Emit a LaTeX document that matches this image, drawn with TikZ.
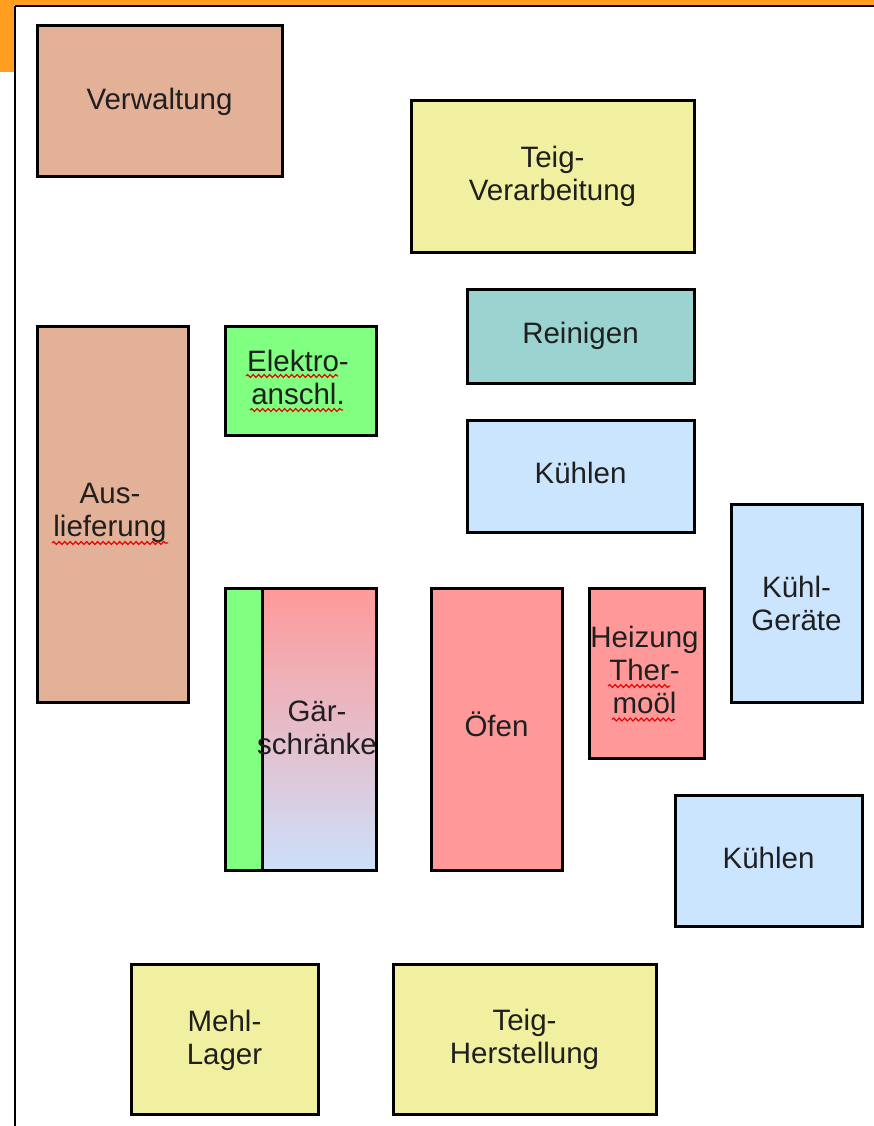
\documentclass[tikz,border=0pt]{standalone}
\usepackage{fontspec}
\setmainfont{Liberation Sans}
\usetikzlibrary{decorations.pathmorphing}
\definecolor{brownbox}{HTML}{E3B098}
\definecolor{yellowbox}{HTML}{F0F0A0}
\definecolor{tealbox}{HTML}{9AD3CF}
\definecolor{greenbox}{HTML}{80FF80}
\definecolor{bluebox}{HTML}{CCE5FF}
\definecolor{redbox}{HTML}{FF9999}
\definecolor{gradbot}{HTML}{CCE0FA}
\definecolor{framecol}{HTML}{FF9E1F}
\begin{document}
\begin{tikzpicture}[x=1pt,y=-1pt]
\tikzset{
  roomfont/.style={text=black!88, font=\fontsize{29.5}{33}\selectfont, align=center, inner sep=0pt},
  room/.style={draw=black, line width=3pt, rectangle, roomfont},
  oneline/.style={text height=21.5pt, text depth=6.2pt},
  wavy/.style={draw=red!90!black, line width=1.2pt, decorate,
    decoration={snake, amplitude=1.4pt, segment length=5.5pt}},
  band/.style={fill=framecol, draw=none}
}
\useasboundingbox (0,0) rectangle (874,1126);
\fill[white] (0,0) rectangle (874,1126);
% orange band and frame
\path[band] (0,0) rectangle (874,5);
\path[band] (0,0) rectangle (14,72);
\draw[line width=2pt, black] (15,6) -- (874,6);
\draw[line width=2pt, black] (15,6) -- (15,1126);

\node[room, oneline, fill=brownbox, minimum width=245pt, minimum height=151pt] (verw) at (159.5,101.5) {Verwaltung};
\node[room, fill=yellowbox, minimum width=283pt, minimum height=151pt] (teigv) at (552.5,176.5) {Teig-\\Verarbeitung};
\node[room, oneline, fill=tealbox, minimum width=227pt, minimum height=94pt] (rein) at (580.5,336) {Reinigen};
\node[room, fill=greenbox, minimum width=151pt, minimum height=109pt] (elek) at (300.5,380.5) {};
\node[roomfont] (elektext) at (298,377) {Elektro-\\anschl.};
\node[room, oneline, fill=bluebox, minimum width=227pt, minimum height=112pt] (kuehl1) at (580.5,476) {Kühlen};
\node[room, fill=brownbox, minimum width=151pt, minimum height=376pt] (ausl) at (112.5,514) {};
\node[roomfont] (ausltext) at (110,512.5) {Aus-\\lieferung};
\node[room, fill=bluebox, minimum width=131pt, minimum height=198pt] (kgeraete) at (796.5,603) {Kühl-\\Geräte};
\node[room, fill=greenbox, minimum width=37pt, minimum height=282pt] (gaerg) at (243.5,729) {};
\node[room, top color=redbox, bottom color=gradbot, minimum width=114pt, minimum height=282pt] (gaer) at (319,729) {};
\node[roomfont] (gaertext) at (317,728) {Gär-\\schränke};
\node[room, oneline, fill=redbox, minimum width=131pt, minimum height=282pt] (oefen) at (496.5,729) {Öfen};
\node[room, fill=redbox, minimum width=115pt, minimum height=170pt] (heiz) at (646.5,673) {};
\node[roomfont] (heiztext) at (644.5,670) {Heizung\\Ther-\\moöl};
\node[room, oneline, fill=bluebox, minimum width=187pt, minimum height=131pt] (kuehl2) at (768.5,860.5) {Kühlen};
\node[room, fill=yellowbox, minimum width=187pt, minimum height=150pt] (mehl) at (224.5,1039) {};
\node[roomfont] (mehltext) at (224.5,1040.5) {Mehl-\\Lager};
\node[room, fill=yellowbox, minimum width=263pt, minimum height=150pt] (teigh) at (524.5,1039) {Teig-\\Herstellung};

% spell-check wavy underlines
\draw[wavy] (246,376) -- (338,376);
\draw[wavy] (250,410) -- (343,410);
\draw[wavy] (52,543) -- (168,543);
\draw[wavy] (608,686) -- (670,686);
\draw[wavy] (612,719.5) -- (675,719.5);
\end{tikzpicture}
\end{document}
